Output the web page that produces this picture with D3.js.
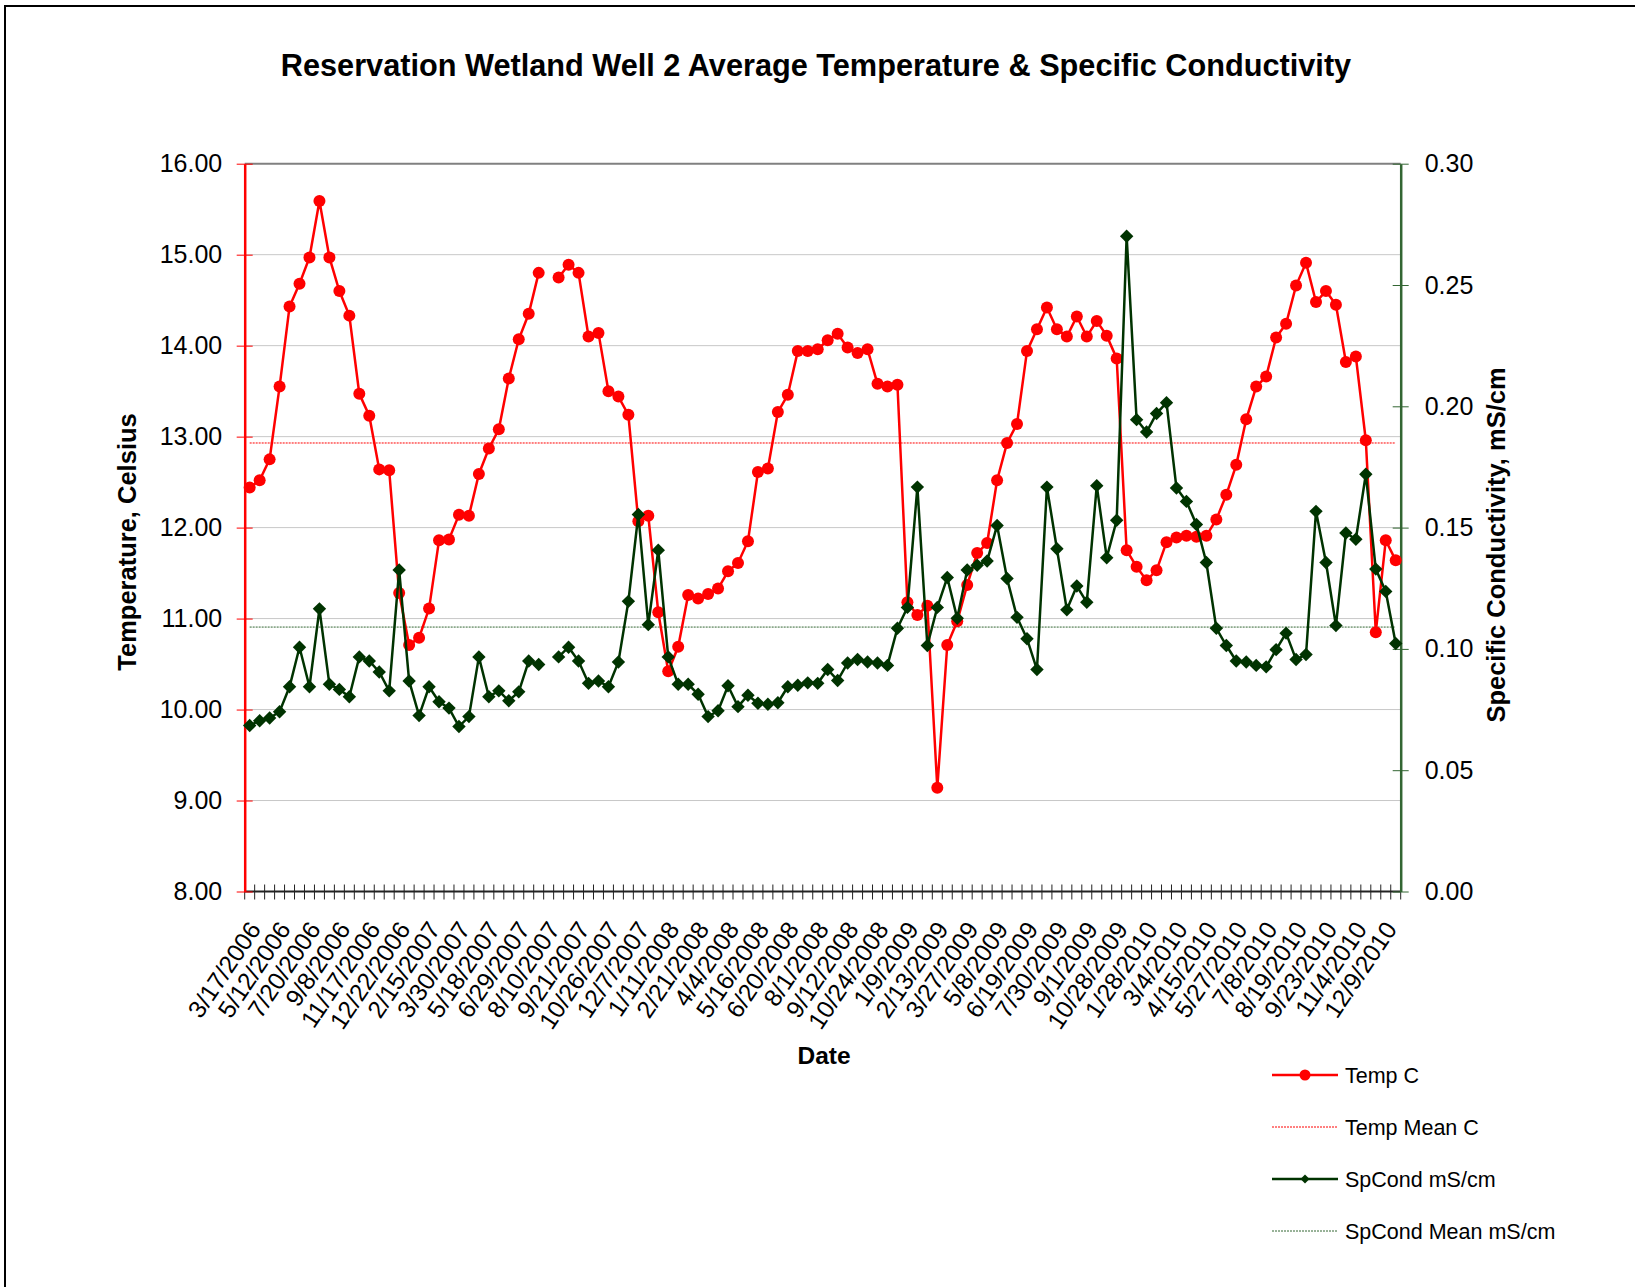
<!DOCTYPE html>
<html>
<head>
<meta charset="utf-8">
<script src="https://cdn.jsdelivr.net/npm/d3@7"></script>
<style>
  body { margin: 0; background: #fff; }
  text { font-family: "Liberation Sans", Arial, sans-serif; fill: #000; }
</style>
</head>
<body>
<div id="chart"></div>
<script>

// every 3rd sample date is labelled on the category axis
var dateLabels = ["3/17/2006","5/12/2006","7/20/2006","9/8/2006","11/17/2006","12/22/2006",
  "2/15/2007","3/30/2007","5/18/2007","6/29/2007","8/10/2007","9/21/2007","10/26/2007","12/7/2007",
  "1/11/2008","2/21/2008","4/4/2008","5/16/2008","6/20/2008","8/1/2008","9/12/2008","10/24/2008",
  "1/9/2009","2/13/2009","3/27/2009","5/8/2009","6/19/2009","7/30/2009","9/1/2009","10/28/2009",
  "1/28/2010","3/4/2010","4/15/2010","5/27/2010","7/8/2010","8/19/2010","9/23/2010","11/4/2010","12/9/2010"];

var tempC = [12.44,12.52,12.75,13.55,14.43,14.68,14.97,15.59,14.97,14.60,
  14.33,13.47,13.23,12.64,12.63,11.28,10.71,10.79,11.11,11.86,
  11.87,12.14,12.13,12.59,12.87,13.08,13.64,14.07,14.35,14.80,
  null,14.75,14.89,14.80,14.10,14.14,13.50,13.44,13.24,12.07,
  12.13,11.07,10.42,10.69,11.26,11.22,11.27,11.33,11.52,11.61,
  11.85,12.61,12.65,13.27,13.46,13.94,13.94,13.96,14.06,14.13,
  13.98,13.92,13.96,13.58,13.55,13.57,11.18,11.04,11.14,9.14,
  10.71,10.97,11.37,11.72,11.83,12.52,12.93,13.14,13.94,14.18,
  14.42,14.18,14.10,14.32,14.10,14.27,14.11,13.86,11.75,11.57,
  11.42,11.53,11.84,11.89,11.91,11.90,11.91,12.09,12.36,12.69,
  13.19,13.55,13.66,14.09,14.24,14.66,14.91,14.48,14.60,14.45,
  13.82,13.88,12.96,10.85,11.86,11.64];

var spCond = [0.0684,0.0704,0.0715,0.0741,0.0844,0.1007,0.0844,0.1165,0.0854,0.0833,
  0.0803,0.0967,0.0950,0.0905,0.0827,0.1325,0.0868,0.0725,0.0844,0.0782,
  0.0756,0.0680,0.0721,0.0967,0.0803,0.0827,0.0786,0.0823,0.0950,0.0936,
  null,0.0967,0.1007,0.0950,0.0858,0.0868,0.0844,0.0946,0.1196,0.1554,
  0.1100,0.1407,0.0967,0.0854,0.0854,0.0813,0.0721,0.0745,0.0848,0.0762,
  0.0809,0.0776,0.0772,0.0778,0.0844,0.0850,0.0860,0.0858,0.0915,0.0870,
  0.0942,0.0956,0.0946,0.0942,0.0932,0.1085,0.1171,0.1667,0.1014,0.1171,
  0.1294,0.1126,0.1325,0.1345,0.1362,0.1509,0.1290,0.1130,0.1042,0.0915,
  0.1667,0.1413,0.1161,0.1259,0.1192,0.1673,0.1376,0.1530,0.2701,0.1945,
  0.1894,0.1970,0.2015,0.1663,0.1608,0.1513,0.1356,0.1085,0.1014,0.0950,
  0.0946,0.0932,0.0926,0.0997,0.1065,0.0956,0.0977,0.1567,0.1356,0.1096,
  0.1478,0.1452,0.1720,0.1329,0.1237,0.1022];

var tempMean = 12.93;
var spCondMean = 0.109;

var tempTicks = [8, 9, 10, 11, 12, 13, 14, 15, 16];
var condTicks = [0, 0.05, 0.10, 0.15, 0.20, 0.25, 0.30];

var legendNames = ["Temp C", "Temp Mean C", "SpCond mS/cm", "SpCond Mean mS/cm"];

const width = 1635, height = 1287;
const plotLeft = 244.7, plotRight = 1400.7, plotTop = 163.7, plotBottom = 891.5;
const red = "#ff0000", green = "#003300", greenAxis = "#336633";

let svg = d3.select("#chart")
  .append("svg")
  .attr("width", width)
  .attr("height", height)

// outer frame (runs off the right / bottom edge)
svg.append("rect")
  .attr("x", 5).attr("y", 6)
  .attr("width", width + 20).attr("height", height + 20)
  .attr("fill", "#fff")
  .attr("stroke", "#000")
  .attr("stroke-width", 2)

let x = d3.scaleBand()
  .domain(d3.range(tempC.length))
  .range([plotLeft, plotRight])
  .padding(0)

let yT = d3.scaleLinear().domain([8, 16]).range([plotBottom, plotTop])
let yC = d3.scaleLinear().domain([0, 0.3]).range([plotBottom, plotTop])

const cx = i => x(i) + x.bandwidth() / 2

// gridlines
svg.append("g")
  .selectAll("line")
  .data(tempTicks.slice(1, -1))
  .join("line")
  .attr("x1", plotLeft).attr("x2", plotRight)
  .attr("y1", d => yT(d)).attr("y2", d => yT(d))
  .attr("stroke", "#c8c8c8")
  .attr("stroke-width", 1)

// plot area top border
svg.append("line")
  .attr("x1", plotLeft).attr("x2", plotRight)
  .attr("y1", plotTop).attr("y2", plotTop)
  .attr("stroke", "#808080")
  .attr("stroke-width", 2)

// category axis with a cross tick at every category boundary
let bounds = x.domain().map(i => x(i)).concat([plotRight])
let xg = svg.append("g")
xg.selectAll("line")
  .data(bounds)
  .join("line")
  .attr("x1", d => d).attr("x2", d => d)
  .attr("y1", plotBottom - 7).attr("y2", plotBottom + 8)
  .attr("stroke", "#222")
  .attr("stroke-width", 1)
xg.append("line")
  .attr("x1", plotLeft).attr("x2", plotRight)
  .attr("y1", plotBottom).attr("y2", plotBottom)
  .attr("stroke", "#222")
  .attr("stroke-width", 2)

xg.selectAll("text")
  .data(dateLabels)
  .join("text")
  .attr("transform", (d, k) => "translate(" + (cx(k * 3) + 5) + "," + (plotBottom + 33) + ") rotate(-56)")
  .attr("text-anchor", "end")
  .attr("dy", "0.35em")
  .style("font-size", "24.5px")
  .text(d => d)

// left (temperature) axis
let yAxisL = d3.axisLeft(yT)
  .tickValues(tempTicks)
  .tickFormat(d3.format(".2f"))
  .tickSizeInner(8)
  .tickSizeOuter(0)
  .tickPadding(14.5)

let gl = svg.append("g")
  .attr("transform", "translate(" + plotLeft + ",0)")
  .call(yAxisL)
gl.select(".domain").attr("stroke", red).attr("stroke-width", 2.5)
gl.selectAll(".tick line").attr("x1", 8).attr("x2", -8).attr("stroke", red)
gl.selectAll(".tick text").style("font-size", "25px").attr("font-family", null)

// right (conductivity) axis
let yAxisR = d3.axisRight(yC)
  .tickValues(condTicks)
  .tickFormat(d3.format(".2f"))
  .tickSizeInner(8)
  .tickSizeOuter(0)
  .tickPadding(16)

let gr = svg.append("g")
  .attr("transform", "translate(" + plotRight + ",0)")
  .call(yAxisR)
gr.select(".domain").attr("stroke", greenAxis).attr("stroke-width", 2.5)
gr.selectAll(".tick line").attr("x1", -8).attr("x2", 8).attr("stroke", greenAxis)
gr.selectAll(".tick text").style("font-size", "25px").attr("font-family", null)

// mean reference lines
svg.append("line")
  .attr("x1", cx(0)).attr("x2", cx(tempC.length - 1))
  .attr("y1", yT(tempMean)).attr("y2", yT(tempMean))
  .attr("stroke", red).attr("stroke-width", 1)
  .attr("stroke-dasharray", "2,1")

svg.append("line")
  .attr("x1", cx(0)).attr("x2", cx(spCond.length - 1))
  .attr("y1", yC(spCondMean)).attr("y2", yC(spCondMean))
  .attr("stroke", greenAxis).attr("stroke-width", 1)
  .attr("stroke-dasharray", "2,1")

// temperature series
svg.append("path")
  .datum(tempC)
  .attr("fill", "none")
  .attr("stroke", red)
  .attr("stroke-width", 2.5)
  .attr("d", d3.line()
    .defined(d => d != null)
    .x((d, i) => cx(i))
    .y(d => yT(d)))

svg.append("g")
  .selectAll("circle")
  .data(tempC.map((v, i) => ({ i: i, v: v })).filter(d => d.v != null))
  .join("circle")
  .attr("cx", d => cx(d.i))
  .attr("cy", d => yT(d.v))
  .attr("r", 6)
  .attr("fill", red)

// conductivity series
svg.append("path")
  .datum(spCond)
  .attr("fill", "none")
  .attr("stroke", green)
  .attr("stroke-width", 2.5)
  .attr("d", d3.line()
    .defined(d => d != null)
    .x((d, i) => cx(i))
    .y(d => yC(d)))

let diamond = d3.symbol().type(d3.symbolSquare).size(90)
svg.append("g")
  .selectAll("path")
  .data(spCond.map((v, i) => ({ i: i, v: v })).filter(d => d.v != null))
  .join("path")
  .attr("d", diamond)
  .attr("transform", d => "translate(" + cx(d.i) + "," + yC(d.v) + ") rotate(45)")
  .attr("fill", green)

// titles
svg.append("text")
  .attr("x", 816).attr("y", 65)
  .attr("dy", "0.35em")
  .attr("text-anchor", "middle")
  .style("font-size", "30.7px").style("font-weight", "bold")
  .text("Reservation Wetland Well 2 Average Temperature & Specific Conductivity")

svg.append("text")
  .attr("transform", "translate(127,542) rotate(-90)")
  .attr("dy", "0.35em")
  .attr("text-anchor", "middle")
  .style("font-size", "25.5px").style("font-weight", "bold")
  .text("Temperature, Celsius")

svg.append("text")
  .attr("transform", "translate(1496,545) rotate(-90)")
  .attr("dy", "0.35em")
  .attr("text-anchor", "middle")
  .style("font-size", "25.5px").style("font-weight", "bold")
  .text("Specific Conductivity, mS/cm")

svg.append("text")
  .attr("x", 824).attr("y", 1055)
  .attr("dy", "0.35em")
  .attr("text-anchor", "middle")
  .style("font-size", "24.5px").style("font-weight", "bold")
  .text("Date")

// legend
let legend = svg.append("g").attr("transform", "translate(1272,1075)")
let items = legend.selectAll("g")
  .data(legendNames)
  .join("g")
  .attr("transform", (d, k) => "translate(0," + k * 52 + ")")

items.append("line")
  .attr("x1", 0).attr("x2", 66)
  .attr("stroke", (d, k) => k < 2 ? red : (k == 2 ? green : greenAxis))
  .attr("stroke-width", (d, k) => k % 2 == 0 ? 2.5 : 1)
  .attr("stroke-dasharray", (d, k) => k % 2 == 1 ? "2,1" : null)

legend.append("circle").attr("cx", 33).attr("cy", 0).attr("r", 5.5).attr("fill", red)
legend.append("path")
  .attr("d", d3.symbol().type(d3.symbolSquare).size(40))
  .attr("transform", "translate(33," + 2 * 52 + ") rotate(45)")
  .attr("fill", green)

items.append("text")
  .attr("x", 73)
  .attr("dy", "0.35em")
  .style("font-size", "21.5px")
  .text(d => d)

</script>
</body>
</html>
